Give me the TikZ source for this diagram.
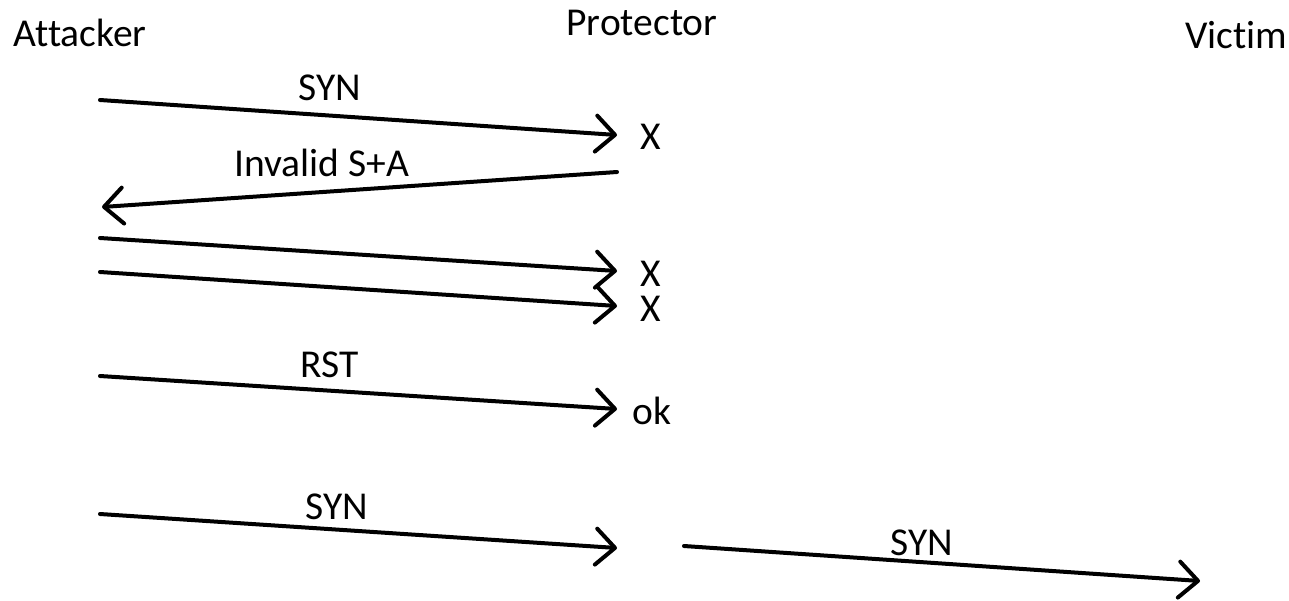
\documentclass[tikz,border=0pt]{standalone}
\usepackage{fontspec}
\setmainfont[Ligatures=NoCommon]{Carlito}
\usetikzlibrary{arrows.meta}
\begin{document}
\begin{tikzpicture}[x=1pt,y=-1pt,
  msg/.style={line width=4pt,line cap=round,
    -{Straight Barb[length=19pt,width=36pt,line width=4pt,round]}},
  lbl/.style={font=\fontsize{39.5}{42}\selectfont,inner sep=0pt,anchor=center}]
\useasboundingbox (0,0) rectangle (1289,600);
% participants
\node[lbl] (att) at (80,33) {Attacker};
\node[lbl] (pro) at (642,23) {Protector};
\node[lbl] (vic) at (1236,35) {Victim};
% message end points
\coordinate (a1) at (100,100);  \coordinate (b1) at (617,135);
\coordinate (a2) at (617,172);  \coordinate (b2) at (102,207);
\coordinate (a3) at (100,238);  \coordinate (b3) at (617,271);
\coordinate (a4) at (100,272);  \coordinate (b4) at (617,306);
\coordinate (a5) at (100,376);  \coordinate (b5) at (617,409);
\coordinate (a6) at (100,514);  \coordinate (b6) at (617,548);
\coordinate (a7) at (684,546);  \coordinate (b7) at (1200,581);
% messages
\draw[msg] (a1) -- (b1);
\draw[msg] (a2) -- (b2);
\draw[msg] (a3) -- (b3);
\draw[msg] (a4) -- (b4);
\draw[msg] (a5) -- (b5);
\draw[msg] (a6) -- (b6);
\draw[msg] (a7) -- (b7);
% message labels
\node[lbl] (l1) at (330,88) {SYN};
\node[lbl] (l2) at (322,163) {Invalid S+A};
\node[lbl] (l5) at (330,365) {RST};
\node[lbl] (l6) at (337,507) {SYN};
\node[lbl] (l7) at (922,543) {SYN};
% verdicts at the protector
\node[lbl] (x1) at (651,137) {X};
\node[lbl,align=center,font=\fontsize{39.5}{35}\selectfont] (x34) at (651,291) {X\\X};
\node[lbl] (ok) at (652,411) {ok};
\end{tikzpicture}
\end{document}
